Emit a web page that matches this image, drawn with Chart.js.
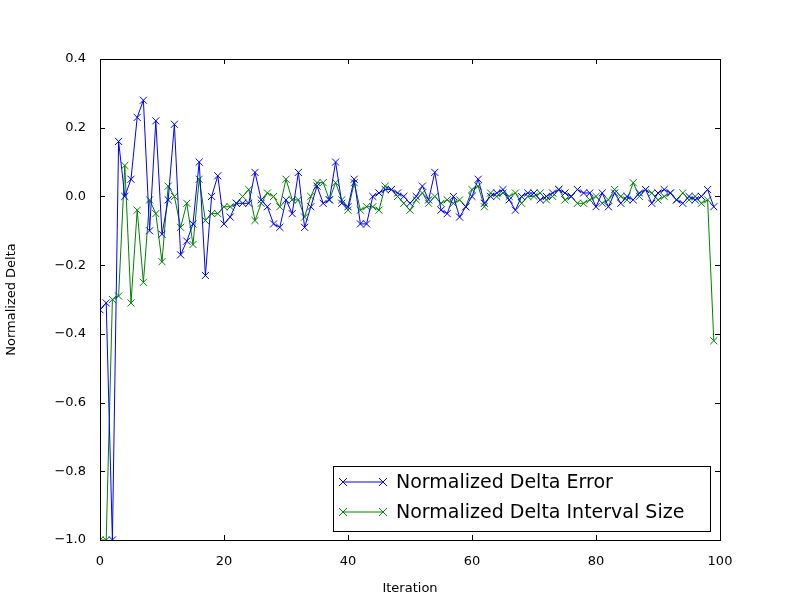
<!DOCTYPE html>
<html>
<head>
<meta charset="utf-8">
<script src="https://cdn.jsdelivr.net/npm/chart.js@4"></script>
<style>
  body { margin: 0; background: #fff; }
  #wrap { width: 800px; height: 600px; }
</style>
</head>
<body>
<div id="wrap"><canvas id="c" width="800" height="600"></canvas></div>
<script>
const iterations = Array.from({ length: 100 }, (_, i) => i);
const deltaError = [
  -0.33, -0.31, -1.0, 0.16, 0.0, 0.05, 0.23, 0.28, -0.10, 0.22,
  -0.11, -0.01, 0.21, -0.17, -0.13, -0.08, 0.10, -0.23, 0.0, 0.06,
  -0.08, -0.06, -0.02, -0.02, -0.02, 0.07, -0.01, -0.03, -0.08, -0.09,
  -0.01, -0.05, 0.07, -0.09, -0.03, 0.03, -0.02, -0.01, 0.10, -0.02,
  -0.03, 0.05, -0.08, -0.08, 0.0, 0.01, 0.02, 0.02, 0.01, 0.0,
  -0.02, 0.0, 0.03, -0.01, 0.07, -0.04, -0.05, 0.0, -0.06, -0.03,
  0.0, 0.05, -0.02, 0.0, 0.01, 0.02, -0.01, -0.04, 0.0, 0.01,
  0.01, -0.01, 0.0, 0.01, 0.02, 0.01, 0.0, 0.02, 0.01, 0.01,
  -0.03, 0.01, -0.03, 0.01, -0.02, 0.0, -0.01, 0.01, 0.02, -0.02,
  0.01, 0.02, 0.01, -0.01, -0.02, 0.0, -0.01, 0.0, 0.02, -0.03
];
const deltaInterval = [
  -1.0, -1.0, -0.30, -0.29, 0.09, -0.31, -0.04, -0.25, -0.01, -0.05,
  -0.19, 0.03, 0.0, -0.09, -0.02, -0.14, 0.05, -0.07, -0.05, -0.05,
  -0.03, -0.03, -0.02, 0.0, 0.02, -0.07, -0.02, 0.01, 0.0, -0.03,
  0.05, -0.01, -0.01, -0.06, 0.0, 0.04, 0.04, -0.01, 0.04, -0.01,
  -0.04, 0.04, -0.04, -0.03, -0.03, -0.04, 0.03, 0.02, 0.0, -0.02,
  -0.04, -0.01, 0.01, -0.02, 0.0, -0.02, -0.01, -0.02, -0.01, -0.03,
  0.02, 0.03, -0.03, 0.01, 0.0, 0.01, 0.0, 0.01, -0.02, 0.0,
  0.0, 0.01, -0.01, 0.0, 0.02, -0.01, 0.0, -0.02, -0.02, -0.01,
  0.0, -0.02, -0.01, 0.02, 0.0, -0.01, 0.04, 0.0, 0.02, 0.01,
  -0.01, 0.0, 0.01, -0.01, 0.01, -0.01, 0.0, -0.02, -0.01, -0.42
];
const seriesNames = ["Normalized Delta Error", "Normalized Delta Interval Size"];
const seriesColors = ["#0000ff", "#008000"];
const xTicks = [0, 20, 40, 60, 80, 100];
const yTicks = [-1.0, -0.8, -0.6, -0.4, -0.2, 0.0, 0.2, 0.4];

const font = { family: "DejaVu Sans", size: 13 };

// legend drawn inside the plot, like matplotlib's lower right box
const boxLegend = {
  id: "boxLegend",
  afterDraw(chart) {
    const ctx = chart.ctx;
    const x = 333, y = 466, w = 377, h = 65;
    ctx.save();
    ctx.fillStyle = "#fff";
    ctx.fillRect(x, y, w, h);
    ctx.strokeStyle = "#000";
    ctx.lineWidth = 1;
    ctx.strokeRect(x + 0.5, y + 0.5, w, h);
    ctx.font = "19px DejaVu Sans";
    ctx.textBaseline = "middle";
    chart.data.datasets.forEach((ds, i) => {
      const ly = y + 16 + i * 30;
      ctx.strokeStyle = ds.borderColor;
      ctx.lineWidth = 1;
      ctx.beginPath(); ctx.moveTo(x + 10, ly); ctx.lineTo(x + 50, ly); ctx.stroke();
      [x + 10, x + 50].forEach(px => {
        ctx.beginPath();
        ctx.moveTo(px - 4, ly - 4); ctx.lineTo(px + 4, ly + 4);
        ctx.moveTo(px - 4, ly + 4); ctx.lineTo(px + 4, ly - 4);
        ctx.stroke();
      });
      ctx.fillStyle = "#000";
      ctx.fillText(ds.label, x + 63, ly + 1);
    });
    ctx.restore();
  }
};

// inward tick marks on all four sides
const innerTicks = {
  id: "innerTicks",
  afterDatasetsDraw(chart) {
    const { ctx, chartArea: a, scales } = chart;
    ctx.save();
    ctx.strokeStyle = "#000";
    ctx.lineWidth = 1;
    xTicks.forEach(t => {
      const px = Math.round(scales.x.getPixelForValue(t)) + 0.5;
      ctx.beginPath();
      ctx.moveTo(px, a.bottom); ctx.lineTo(px, a.bottom - 5);
      ctx.moveTo(px, a.top); ctx.lineTo(px, a.top + 5);
      ctx.stroke();
    });
    yTicks.forEach(t => {
      const py = Math.round(scales.y.getPixelForValue(t)) + 0.5;
      ctx.beginPath();
      ctx.moveTo(a.left, py); ctx.lineTo(a.left + 5, py);
      ctx.moveTo(a.right, py); ctx.lineTo(a.right - 5, py);
      ctx.stroke();
    });
    ctx.strokeRect(a.left + 0.5, a.top + 0.5, a.right - a.left, a.bottom - a.top);
    ctx.restore();
  }
};

const makeSet = (label, values, color) => ({
  label,
  data: iterations.map((it, i) => ({ x: it, y: values[i] })),
  borderColor: color,
  backgroundColor: color,
  borderWidth: 1,
  pointStyle: "crossRot",
  pointRadius: 5,
  pointBorderWidth: 1,
  tension: 0
});

new Chart(document.getElementById("c"), {
  type: "line",
  data: {
    datasets: [
      makeSet(seriesNames[0], deltaError, seriesColors[0]),
      makeSet(seriesNames[1], deltaInterval, seriesColors[1])
    ]
  },
  options: {
    responsive: false,
    animation: false,
    layout: { padding: { top: 59, right: 80, left: 0, bottom: 0 } },
    plugins: { legend: { display: false }, tooltip: { enabled: false } },
    scales: {
      x: {
        type: "linear", min: 0, max: 100,
        grid: { display: false },
        border: { display: false },
        afterBuildTicks: s => { s.ticks = xTicks.map(v => ({ value: v })); },
        afterFit: s => { s.height = 60; },
        ticks: { color: "#000", font, padding: 6, maxRotation: 0 },
        title: { display: true, text: "Iteration", color: "#000", font, padding: { top: 4 } }
      },
      y: {
        min: -1, max: 0.4,
        grid: { display: false },
        border: { display: false },
        afterBuildTicks: s => { s.ticks = yTicks.map(v => ({ value: v })); },
        afterFit: s => { s.width = 100; },
        ticks: {
          color: "#000", font, padding: 6,
          callback: v => v.toFixed(1).replace("-", "\u2212")
        },
        title: { display: true, text: "Normalized Delta", color: "#000", font }
      }
    }
  },
  plugins: [innerTicks, boxLegend]
});
</script>
</body>
</html>
